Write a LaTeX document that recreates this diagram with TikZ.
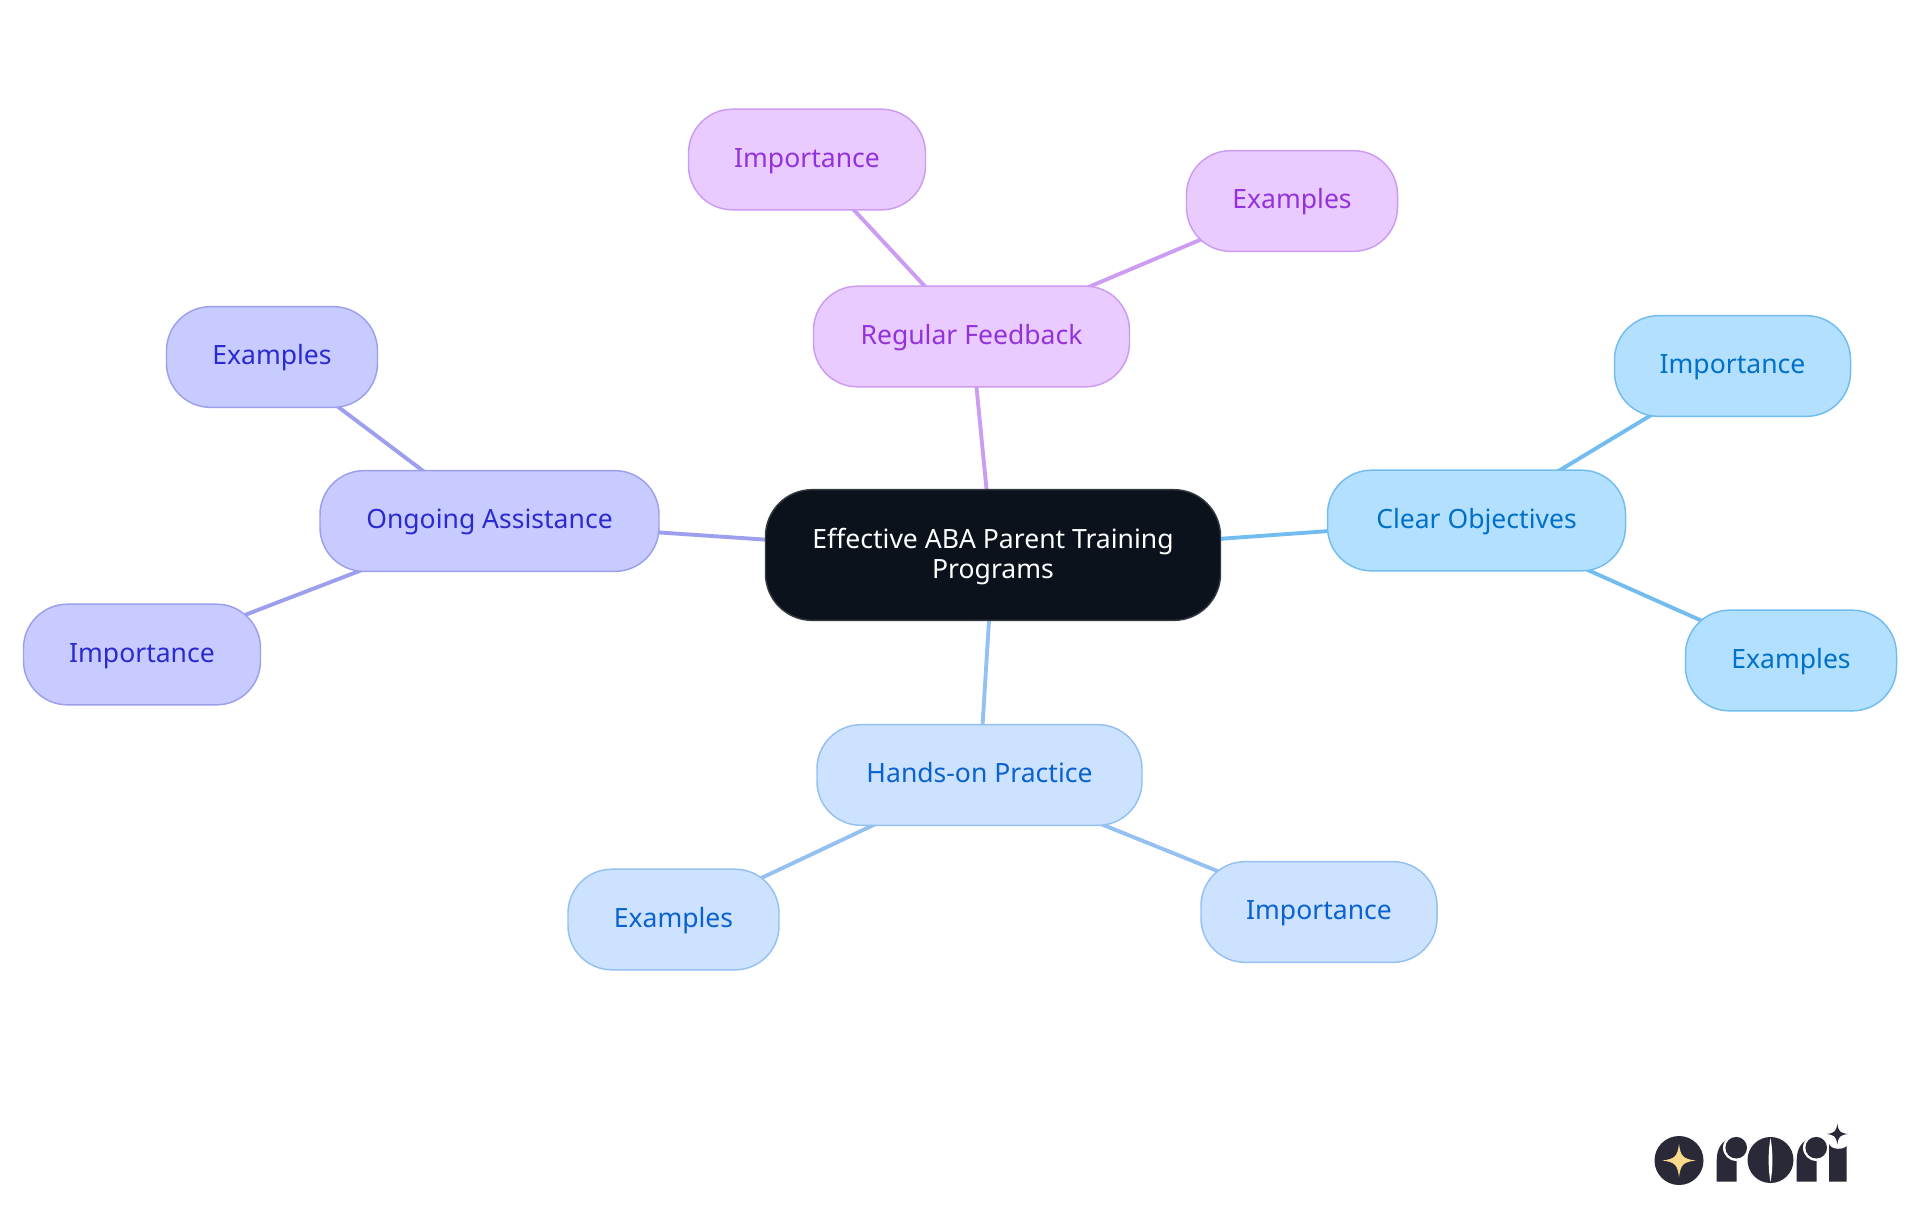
\documentclass[tikz,border=0pt]{standalone}
\usepackage{fontspec}
\setmainfont{Noto Sans}
\usetikzlibrary{backgrounds}
\definecolor{rootfill}{HTML}{0B121B}
\definecolor{rootline}{HTML}{34393F}
\definecolor{purfill}{HTML}{E9CBFF}
\definecolor{purline}{HTML}{CC9BF2}
\definecolor{purtext}{HTML}{9232DC}
\definecolor{skyfill}{HTML}{B3E0FF}
\definecolor{skyline}{HTML}{72BCF0}
\definecolor{skytext}{HTML}{0070C8}
\definecolor{blufill}{HTML}{CCE2FF}
\definecolor{bluline}{HTML}{95C0F2}
\definecolor{blutext}{HTML}{0A62D0}
\definecolor{indfill}{HTML}{C8CBFF}
\definecolor{indline}{HTML}{9C9FEE}
\definecolor{indtext}{HTML}{2A2AD0}
\definecolor{logodark}{HTML}{2A2937}
\definecolor{logostar}{HTML}{FBD98B}
\tikzset{
  mm/.style={rectangle,rounded corners=33pt,line width=1.1pt,minimum height=75.5pt,inner sep=0pt,align=center,font=\fontsize{19.9}{23}\selectfont},
  wd/.style={minimum width=#1*0.75pt},
  pur/.style={mm,draw=purline,fill=purfill,text=purtext},
  sky/.style={mm,draw=skyline,fill=skyfill,text=skytext},
  blu/.style={mm,draw=bluline,fill=blufill,text=blutext},
  ind/.style={mm,draw=indline,fill=indfill,text=indtext},
  rootbox/.style={mm,rounded corners=35pt,minimum height=98pt,draw=rootline,fill=rootfill,text=white},
  edge/.style={line width=2.9pt},
}
\newcommand{\up}[1]{\raisebox{0pt}[16pt][4.2pt]{#1}}
\newcommand{\starshape}[4]{% cx cy r color
  \fill[#4] (#1,#2-#3) .. controls (#1+0.1*#3,#2-0.25*#3) and (#1+0.25*#3,#2-0.1*#3) .. (#1+#3,#2)
    .. controls (#1+0.25*#3,#2+0.1*#3) and (#1+0.1*#3,#2+0.25*#3) .. (#1,#2+#3)
    .. controls (#1-0.1*#3,#2+0.25*#3) and (#1-0.25*#3,#2+0.1*#3) .. (#1-#3,#2)
    .. controls (#1-0.25*#3,#2-0.1*#3) and (#1-0.1*#3,#2-0.25*#3) .. (#1,#2-#3) -- cycle;
}
\newcommand{\logor}[1]{% x of stem left
  \fill[logodark] (#1,1181.7) -- (#1,1160) .. controls (#1,1148) and (#1+6,1139) .. (#1+16,1138) -- (#1+20,1138) -- (#1+20,1181.7) -- cycle;
  \fill[white] (#1+19.5,1147.7) circle[radius=13.2];
  \fill[logodark] (#1+19.5,1147.7) circle[radius=10.8];
}
\begin{document}
\begin{tikzpicture}[x=0.75pt,y=-0.75pt]
\useasboundingbox (0,0) rectangle (1920,1215);
\node[rootbox,wd=455] (root) at (993,555) {\rule{0pt}{17.5pt}Effective ABA Parent Training\\Programs};

\node[pur,wd=316] (rf) at (971.5,336.5) {\up{Regular Feedback}};
\node[pur,wd=237] (rfi) at (807,159.5) {\up{Importance}};
\node[pur,wd=211] (rfe) at (1292,201) {\up{Examples}};

\node[sky,wd=298] (co) at (1476.5,520.5) {\up{Clear Objectives}};
\node[sky,wd=236] (coi) at (1732.5,366) {\up{Importance}};
\node[sky,wd=211] (coe) at (1791,660.5) {\up{Examples}};

\node[blu,wd=325] (hp) at (979.5,775) {\up{Hands-on Practice}};
\node[blu,wd=211] (hpe) at (673.5,919.5) {\up{Examples}};
\node[blu,wd=236] (hpi) at (1319,912) {\up{Importance}};

\node[ind,wd=339] (oa) at (489.5,521) {\up{Ongoing Assistance}};
\node[ind,wd=211] (oae) at (272,357) {\up{Examples}};
\node[ind,wd=237] (oai) at (142,654.5) {\up{Importance}};

\begin{scope}[on background layer]
  \fill[white] (0,0) rectangle (1920,1215);
  \draw[edge,purline] (root.center) -- (rf.center);
  \draw[edge,purline] (rf.center) -- (rfi.center);
  \draw[edge,purline] (rf.center) -- (rfe.center);
  \draw[edge,skyline] (root.center) -- (co.center);
  \draw[edge,skyline] (co.center) -- (coi.center);
  \draw[edge,skyline] (co.center) -- (coe.center);
  \draw[edge,bluline] (root.center) -- (hp.center);
  \draw[edge,bluline] (hp.center) -- (hpe.center);
  \draw[edge,bluline] (hp.center) -- (hpi.center);
  \draw[edge,indline] (root.center) -- (oa.center);
  \draw[edge,indline] (oa.center) -- (oae.center);
  \draw[edge,indline] (oa.center) -- (oai.center);
\end{scope}

% logo
\fill[logodark] (1679,1160.5) circle[radius=24.5];
\starshape{1679}{1160.5}{16.5}{logostar}
\logor{1716.7}
\fill[logodark] (1770.5,1160) circle[radius=23];
\fill[white] (1770.5,1138) .. controls (1773,1150) and (1773,1170) .. (1770.5,1182) .. controls (1768,1170) and (1768,1150) .. (1770.5,1138) -- cycle;
\logor{1796.7}
\fill[logodark] (1829,1181.7) -- (1829,1144) .. controls (1831,1150) and (1843,1150) .. (1846.7,1146) -- (1846.7,1181.7) -- cycle;
\starshape{1837.3}{1134}{10.5}{logodark}
\end{tikzpicture}
\end{document}
